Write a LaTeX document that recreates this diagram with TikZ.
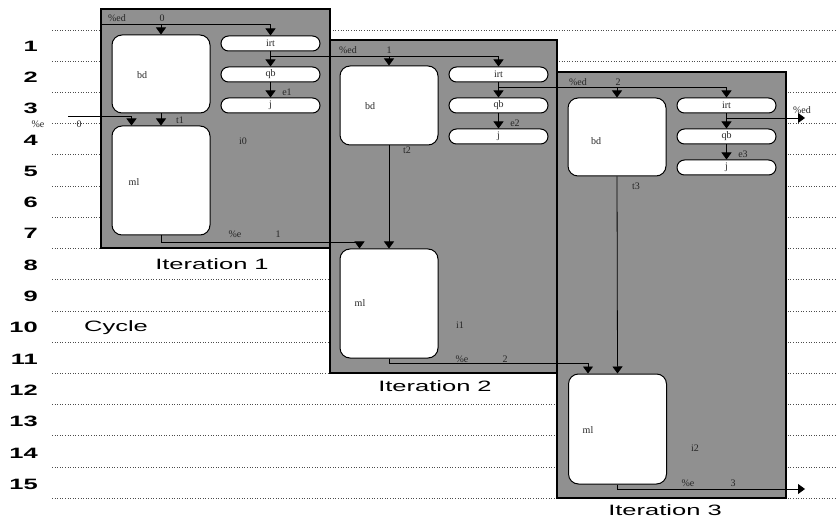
\documentclass[tikz,border=0pt]{standalone}
\usepackage{fontspec}
\setmainfont{Liberation Serif}
\newfontfamily\widesans[FakeStretch=1.7]{Liberation Sans}
\usetikzlibrary{arrows.meta,calc}
\definecolor{boxgray}{RGB}{144,144,144}
\begin{document}
\begin{tikzpicture}[x=1pt,y=-1pt,
  iterbox/.style={draw=black, line width=1.2pt, fill=boxgray},
  bigbox/.style={draw=black, line width=1pt, fill=white, rounded corners=10pt, minimum width=98pt, inner sep=0pt},
  pill/.style={draw=black, line width=1pt, fill=white, rounded corners=7.5pt, minimum width=99pt, minimum height=15pt, inner sep=0pt},
  lab/.style={font=\fontsize{10}{11}\selectfont, text=black!85, inner sep=0pt},
  conn/.style={line width=0.8pt},
  arr/.style={conn, -{Triangle[width=10pt,length=7pt]}},
  cyc/.style={font=\widesans\bfseries\fontsize{15}{17}\selectfont, inner sep=0pt, anchor=east},
  itl/.style={font=\widesans\fontsize{15}{17}\selectfont, inner sep=0pt},
  gridline/.style={dotted, line width=0.6pt, black!70}]
\fill[white] (0,0) rectangle (837,518);
\useasboundingbox (0,0) rectangle (837,518);
% cycle grid
\foreach \k in {0,...,15} \draw[gridline] (52,{30+31.2*\k}) -- (835,{30+31.2*\k});
\foreach \k in {1,...,15} \node[cyc] (n\k) at (38,{46+31.3*(\k-1)}) {\k};
\node[itl] (cycle) at (116,328) {Cycle};
% iteration frames
\draw[iterbox] (101,9) rectangle (330,248);
\draw[iterbox] (330,40) rectangle (557,373);
\draw[iterbox] (557,72) rectangle (786,498);
% iteration 1
\node[bigbox, minimum height=78pt] (u1) at (161,74) {};
\node[pill] (p11) at (270.5,43.5) {};
\node[pill] (p12) at (270.5,74.5) {};
\node[pill] (p13) at (270.5,105.5) {};
\node[bigbox, minimum height=109pt] (d1) at (161,180.5) {};
% iteration 2
\node[bigbox, minimum height=79pt] (u2) at (389,105.5) {};
\node[pill] (p21) at (498.5,74.5) {};
\node[pill] (p22) at (498.5,105.5) {};
\node[pill] (p23) at (498.5,136.5) {};
\node[bigbox, minimum height=109pt] (d2) at (389,303.5) {};
% iteration 3
\node[bigbox, minimum height=78pt] (u3) at (617,137) {};
\node[pill] (p31) at (726.5,105.5) {};
\node[pill] (p32) at (726.5,136.5) {};
\node[pill] (p33) at (726.5,167.5) {};
\node[bigbox, minimum height=110pt] (d3) at (617.5,429) {};
% helper coordinates
\coordinate (s1) at (101,24);
\coordinate (y2) at (0,56);
\coordinate (y3) at (0,87);
\coordinate (y4) at (0,118);
\coordinate (y5) at (0,242);
\coordinate (y6) at (0,363);
\coordinate (out1) at (805,118);
\coordinate (out2) at (805,489);
\coordinate (in0) at (68,116);
\coordinate (d1a) at ($(d1.north west)+(20,0)$);
\coordinate (d2a) at ($(d2.north west)+(20,0)$);
\coordinate (d3a) at ($(d3.north west)+(20,0)$);
% top feeds
\draw[arr] (s1) -| (p11.north);
\draw[arr] (u1.north |- s1) -- (u1.north);
\draw[arr] (p11.south) -- (p12.north);
\draw[arr] (p12.south) -- (p13.north);
\draw[arr] (p11.south |- y2) -| (p21.north);
\draw[arr] (u2.north |- y2) -- (u2.north);
\draw[arr] (p21.south) -- (p22.north);
\draw[arr] (p22.south) -- (p23.north);
\draw[arr] (p21.south |- y3) -| (p31.north);
\draw[arr] (u3.north |- y3) -- (u3.north);
\draw[arr] (p31.south) -- (p32.north);
\draw[arr] (p32.south) -- (p33.north);
\draw[arr] (p31.south |- y4) -- (out1);
% lower feeds
\draw[arr] (in0) -| (d1a);
\draw[arr] (u1.south) -- (d1.north);
\draw[arr] (d1.south) |- (d2a |- y5) -- (d2a);
\draw[arr] (u2.south) -- (d2.north);
\draw[arr] (d2.south) |- (d3a |- y6) -- (d3a);
\draw[arr] (u3.south) -- (d3.north);
\draw[arr] (d3.south) |- (out2);
% labels
\node[lab] (a0) at (117,18) {\%ed};  \node[lab] (a0n) at (162,18) {0};
\node[lab] (a1) at (348,50) {\%ed};  \node[lab] (a1n) at (389,50) {1};
\node[lab] (a2) at (578,82) {\%ed};  \node[lab] (a2n) at (618,82) {2};
\node[lab] (ao) at (802,110) {\%ed};
\node[lab] (b0) at (38,124) {\%e};   \node[lab] (b0n) at (79,124) {0};
\node[lab] (b1) at (235,234) {\%e};  \node[lab] (b1n) at (278,234) {1};
\node[lab] (b2) at (462,359) {\%e};  \node[lab] (b2n) at (505,359) {2};
\node[lab] (b3) at (688,483) {\%e};  \node[lab] (b3n) at (733,483) {3};
\node[lab] (lu1) at (142,75) {bd};
\node[lab] (lu2) at (370,106) {bd};
\node[lab] (lu3) at (596,141) {bd};
\node[lab] (ld1) at (134,182) {ml};
\node[lab] (ld2) at (360,303) {ml};
\node[lab] (ld3) at (588,430) {ml};
\node[lab] (q11) at (270.5,43.5) {irt};
\node[lab] (q12) at (270.5,74.5) {qb};
\node[lab] (q13) at (270.5,105.5) {j};
\node[lab] (q21) at (498.5,74.5) {irt};
\node[lab] (q22) at (498.5,105.5) {qb};
\node[lab] (q23) at (498.5,136.5) {j};
\node[lab] (q31) at (726.5,105.5) {irt};
\node[lab] (q32) at (726.5,136.5) {qb};
\node[lab] (q33) at (726.5,167.5) {j};
\node[lab] (e1) at (287,92) {e1};
\node[lab] (e2) at (515,123) {e2};
\node[lab] (e3) at (743,154) {e3};
\node[lab] (t1) at (180,120) {t1};
\node[lab] (t2) at (407,150) {t2};
\node[lab] (t3) at (636,186) {t3};
\node[lab] (i0) at (243,141) {i0};
\node[lab] (i1) at (460,325) {i1};
\node[lab] (i2) at (695,448) {i2};
\node[itl] (it1) at (212,264) {Iteration 1};
\node[itl] (it2) at (435,386) {Iteration 2};
\node[itl] (it3) at (665,510) {Iteration 3};
\end{tikzpicture}
\end{document}
